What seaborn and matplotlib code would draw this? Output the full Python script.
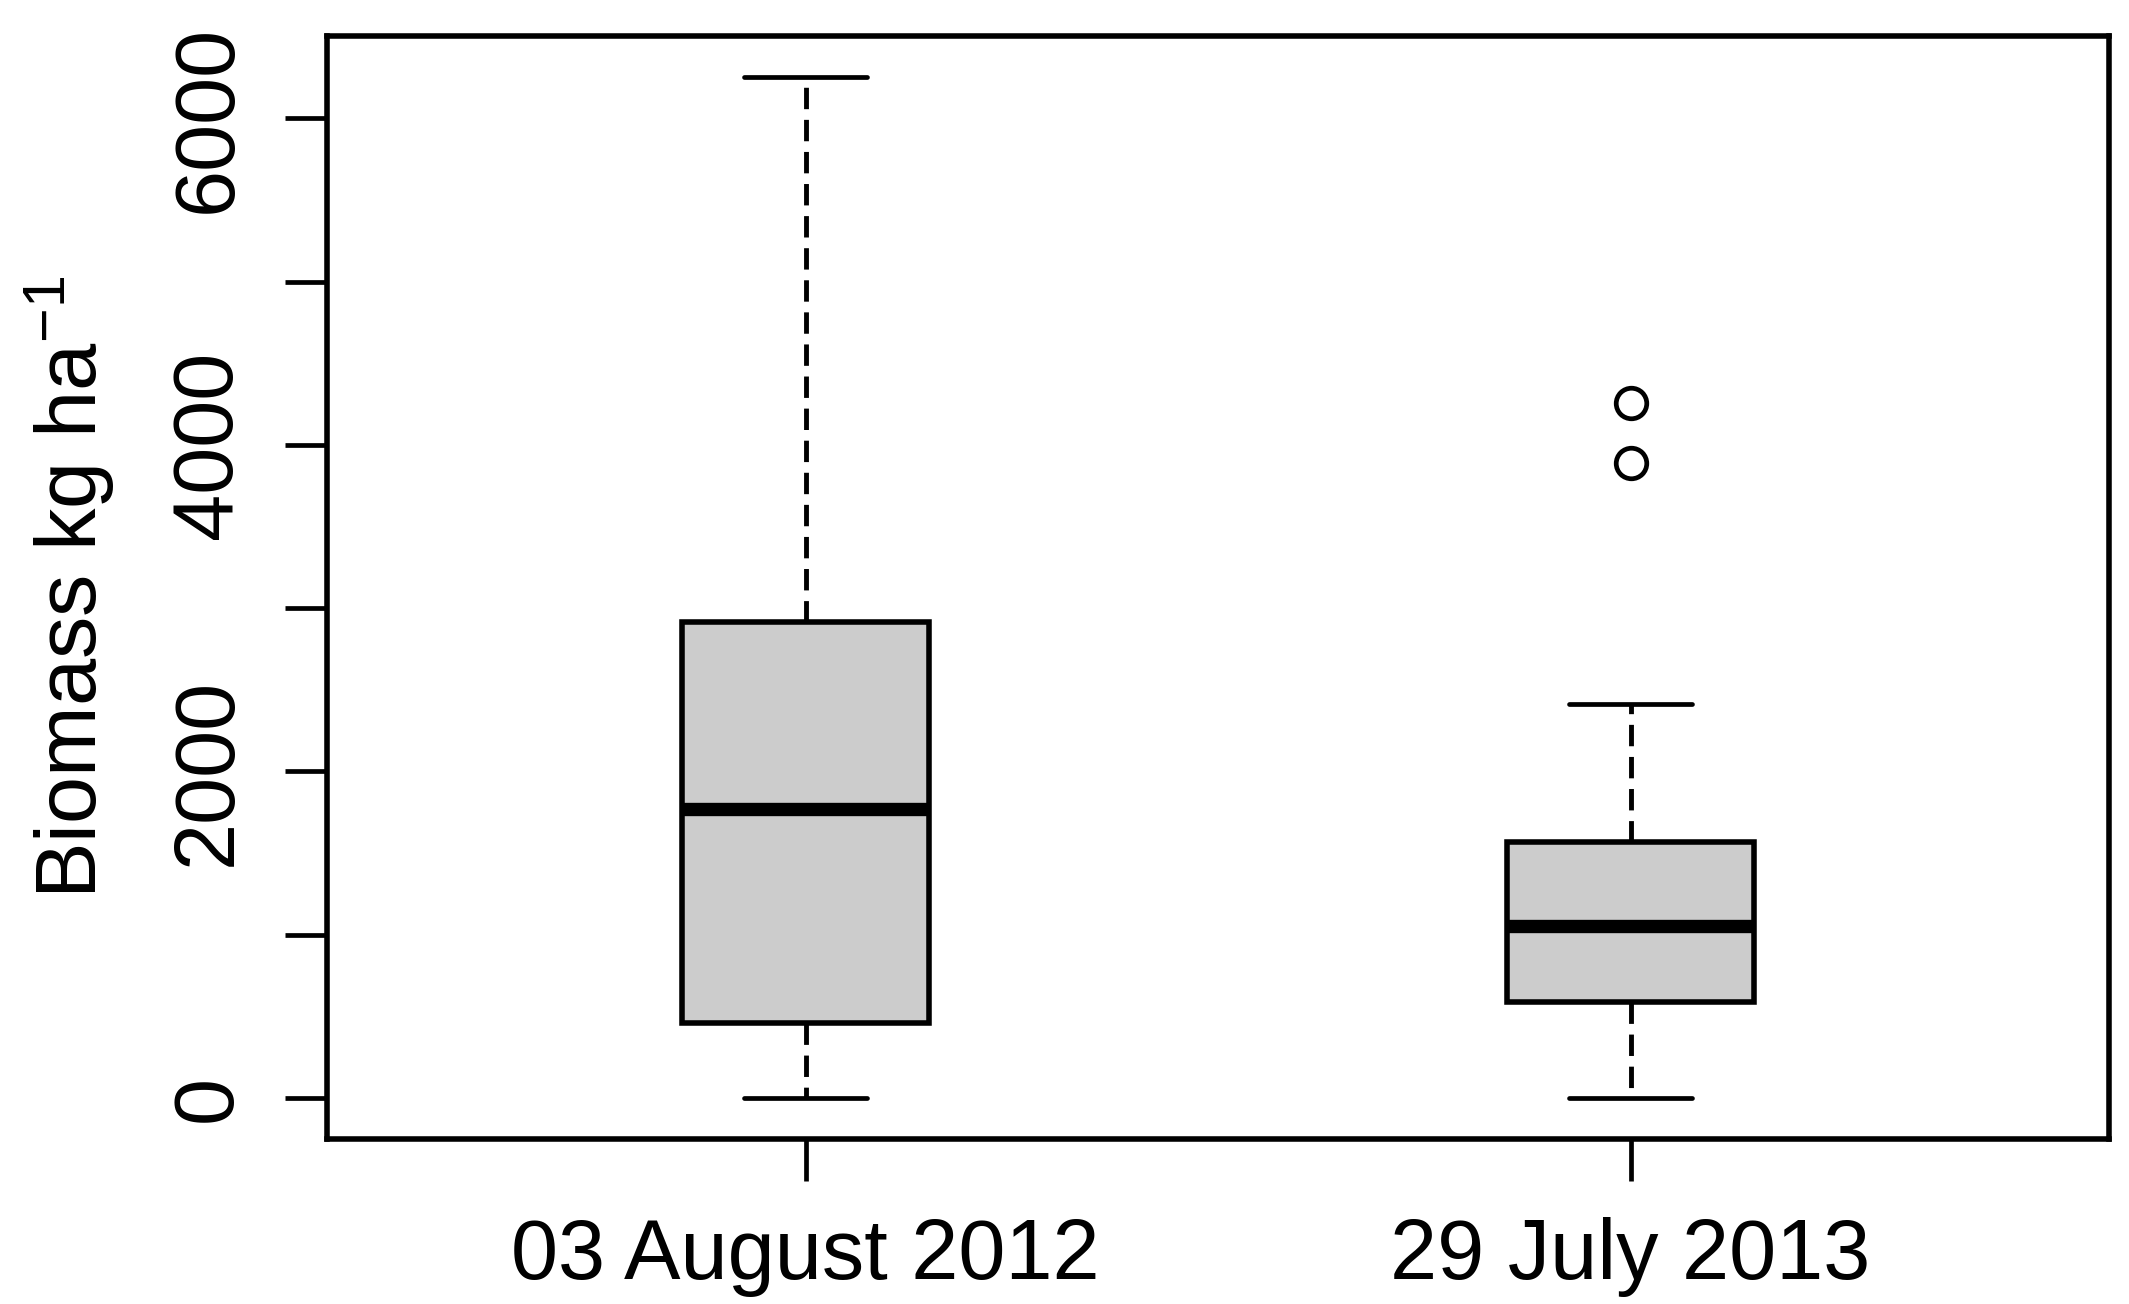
import matplotlib
matplotlib.use("Agg")
import matplotlib.pyplot as plt
import seaborn as sns
import pandas as pd

# ---- data (kg/ha) ----
dates = ["03 August 2012", "29 July 2013"]
biomass_2012 = [0, 461, 1768, 2917, 6254]
biomass_2013 = [0, 180, 420, 590, 760, 920, 1053, 1210, 1390, 1570, 2411, 3890, 4260]
y_ticks = [0, 1000, 2000, 3000, 4000, 5000, 6000]
y_tick_labels = ["0", "", "2000", "", "4000", "", "6000"]

df = pd.DataFrame({
    "date": [dates[0]] * len(biomass_2012) + [dates[1]] * len(biomass_2013),
    "biomass": biomass_2012 + biomass_2013,
})

sns.set_theme(style="white")
plt.rcParams["font.family"] = ["Liberation Sans", "DejaVu Sans"]
plt.rcParams["mathtext.fontset"] = "custom"
plt.rcParams["mathtext.rm"] = "Liberation Sans"
plt.rcParams["mathtext.it"] = "Liberation Sans"
plt.rcParams["mathtext.bf"] = "Liberation Sans"

fig = plt.figure(figsize=(21.29, 13.04), dpi=100)
ax = fig.add_axes([327 / 2129, 1 - 1139 / 1304, (2109 - 327) / 2129, (1139 - 36) / 1304])

sns.boxplot(
    data=df, x="date", y="biomass", order=dates, ax=ax,
    width=0.30, color="#CCCCCC", saturation=1, linecolor="black", linewidth=4.0,
    whis=1.5,
    boxprops=dict(linewidth=4.0),
    medianprops=dict(linewidth=9.6, color="black"),
    whiskerprops=dict(linewidth=3.5, linestyle=(0, (4.4, 2.2)), color="black"),
    capprops=dict(linewidth=3.4, color="black"),
    flierprops=dict(marker="o", markersize=22, markerfacecolor="none",
                    markeredgecolor="black", markeredgewidth=3.4),
)

ax.set_xlim(-0.58, 1.58)
ax.set_ylim(-251, 6505)
ax.set_yticks(y_ticks)
ax.set_yticklabels(y_tick_labels, rotation=90, va="center", fontsize=61)
ax.set_xticks([0, 1])
ax.set_xticklabels(dates, fontsize=61)
ax.tick_params(axis="both", direction="out", length=30, width=3.4, color="black",
               labelcolor="black", pad=26)
ax.tick_params(axis="x", bottom=True, top=False)
ax.tick_params(axis="y", left=True, right=False)

for s in ax.spines.values():
    s.set_visible(True)
    s.set_color("black")
    s.set_linewidth(4.0)

ax.set_xlabel("")
ax.set_ylabel("Biomass kg ha$^{-1}$", fontsize=61, color="black")
ax.yaxis.set_label_coords(-0.118, 0.5)
ax.grid(False)

fig.savefig("out.png", dpi=100, facecolor="white")
